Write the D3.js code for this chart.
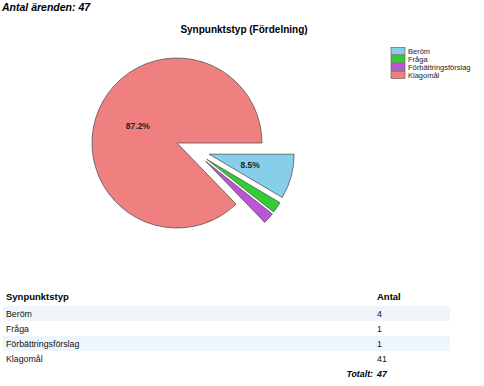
<!DOCTYPE html>
<html>
<head>
<meta charset="utf-8">
<script src="https://cdn.jsdelivr.net/npm/d3@7"></script>
<style>
  body { margin: 0; background: #fff; }
  svg { display: block; font-family: "Liberation Sans", Arial, sans-serif; }
</style>
</head>
<body>
<div id="chart"></div>
<script>
// Data
var categories = ["Beröm", "Fråga", "Förbättringsförslag", "Klagomål"];
var counts = [4, 1, 1, 41];
var colors = ["#87ceeb", "#32cd32", "#ba55d3", "#f08080"];
var exploded = [true, true, true, false];
var total = 47;

var svgWidth = 484;
var svgHeight = 386;

var svg = d3.select("#chart")
    .append("svg")
    .attr("width", svgWidth)
    .attr("height", svgHeight);

svg.append("rect")
    .attr("width", svgWidth)
    .attr("height", svgHeight)
    .attr("fill", "#fff");

// Header
svg.append("text")
    .attr("x", 2)
    .attr("y", 11)
    .style("font-size", "10.5px")
    .style("font-weight", "bold")
    .style("font-style", "italic")
    .text("Antal ärenden: " + total);

// Title
svg.append("text")
    .attr("x", 244)
    .attr("y", 33)
    .style("text-anchor", "middle")
    .style("font-size", "10px")
    .style("font-weight", "bold")
    .text("Synpunktstyp (Fördelning)");

// Pie
var radius = 85;
var explodeDist = 34;
var pieGroup = svg.append("g")
    .attr("transform", "translate(177, 143)");

var pie = d3.pie()
    .sort(null)
    .startAngle(Math.PI / 2)
    .endAngle(Math.PI / 2 + 2 * Math.PI)
    .value(d => d);

var arcs = pie(counts);
var arc = d3.arc().innerRadius(0).outerRadius(radius);

// exploded slices are pushed out along a direction halfway between
// their own middle and the middle of the exploded group
var expArcs = arcs.filter((d, i) => exploded[i]);
var groupMid = (d3.min(expArcs, d => d.startAngle) + d3.max(expArcs, d => d.endAngle)) / 2;

function offset(d, i) {
    if (!exploded[i]) return [0, 0];
    var mid = 0.5 * (d.startAngle + d.endAngle) / 2 + 0.5 * groupMid;
    return [Math.sin(mid) * explodeDist, -Math.cos(mid) * explodeDist];
}

var slices = pieGroup.selectAll("g.slice")
    .data(arcs)
    .enter()
    .append("g")
    .attr("class", "slice")
    .attr("transform", (d, i) => "translate(" + offset(d, i) + ")");

slices.append("path")
    .attr("d", arc)
    .attr("fill", (d, i) => colors[i])
    .attr("stroke", "#555")
    .attr("stroke-width", 0.8);

// Percentage labels for larger slices
var labelArc = d3.arc().innerRadius(radius * 0.5).outerRadius(radius * 0.5);
slices.filter(d => d.value / total > 0.05)
    .append("text")
    .attr("transform", d => "translate(" + labelArc.centroid(d) + ")")
    .attr("dy", "0.35em")
    .style("text-anchor", "middle")
    .style("font-size", "8.5px")
    .style("font-weight", "bold")
    .attr("fill", "#222")
    .text(d => (d.value / total * 100).toFixed(1) + "%");

// Legend
var legendY = d3.scaleBand()
    .domain(categories)
    .range([47, 79]);

var legend = svg.append("g")
    .selectAll("g")
    .data(categories)
    .enter()
    .append("g")
    .attr("transform", d => "translate(391, " + legendY(d) + ")");

legend.append("rect")
    .attr("y", 0.5)
    .attr("width", 14)
    .attr("height", 7)
    .attr("fill", (d, i) => colors[i])
    .attr("stroke", "#555")
    .attr("stroke-width", 0.6);

legend.append("text")
    .attr("x", 17)
    .attr("y", 7)
    .style("font-size", "7.5px")
    .attr("fill", "#222")
    .text(d => d);

// Table
var rowY = d3.scaleBand()
    .domain(categories)
    .range([306, 366]);

var table = svg.append("g");

table.selectAll("rect.stripe")
    .data(categories.filter((d, i) => i % 2 === 0))
    .enter()
    .append("rect")
    .attr("class", "stripe")
    .attr("x", 3)
    .attr("y", d => rowY(d))
    .attr("width", 447)
    .attr("height", rowY.bandwidth())
    .attr("fill", "#eef6fc");

table.append("text")
    .attr("x", 6)
    .attr("y", 300)
    .style("font-size", "9.5px")
    .style("font-weight", "bold")
    .text("Synpunktstyp");

table.append("text")
    .attr("x", 377)
    .attr("y", 300)
    .style("font-size", "9.5px")
    .style("font-weight", "bold")
    .text("Antal");

table.selectAll("text.cat")
    .data(categories)
    .enter()
    .append("text")
    .attr("class", "cat")
    .attr("x", 6)
    .attr("y", d => rowY(d) + 10.5)
    .style("font-size", "8.8px")
    .attr("fill", "#111")
    .text(d => d);

table.selectAll("text.num")
    .data(counts)
    .enter()
    .append("text")
    .attr("class", "num")
    .attr("x", 377)
    .attr("y", (d, i) => rowY(categories[i]) + 10.5)
    .style("font-size", "8.8px")
    .attr("fill", "#111")
    .text(d => d);

table.append("text")
    .attr("x", 373)
    .attr("y", 377)
    .style("text-anchor", "end")
    .style("font-size", "8.8px")
    .style("font-weight", "bold")
    .style("font-style", "italic")
    .text("Totalt:");

table.append("text")
    .attr("x", 377)
    .attr("y", 377)
    .style("font-size", "8.8px")
    .style("font-weight", "bold")
    .style("font-style", "italic")
    .text(total);
</script>
</body>
</html>
